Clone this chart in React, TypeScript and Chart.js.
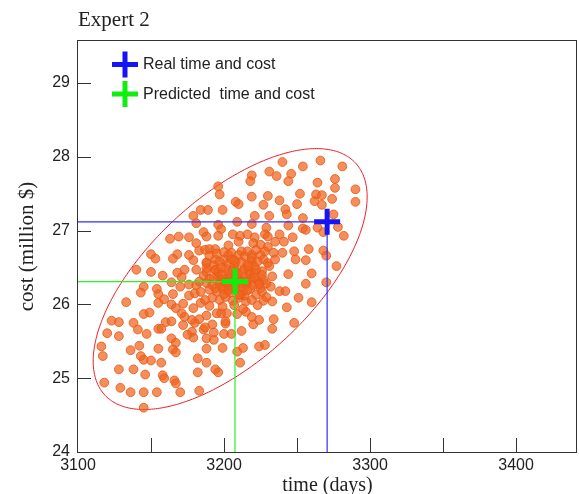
import React, { useEffect, useRef } from 'react';
import { Chart, registerables } from 'chart.js';

Chart.register(...registerables);

// Simulated outcomes (time in days, cost in million $)
const timeDays = [
  3240, 3254, 3266, 3281, 3231, 3236, 3219, 3218, 3246, 3244,
  3264, 3276, 3276, 3290, 3196, 3197, 3219, 3230, 3238, 3252,
  3263, 3267, 3274, 3262, 3267, 3290, 3208, 3210, 3227, 3250,
  3184, 3189, 3199, 3242, 3243, 3179, 3221, 3231, 3254, 3275,
  3181, 3209, 3219, 3196, 3198, 3229, 3244, 3254, 3256, 3264,
  3268, 3278, 3186, 3188, 3163, 3169, 3176, 3196, 3206, 3211,
  3210, 3216, 3221, 3228, 3230, 3238, 3247, 3282, 3235, 3241,
  3181, 3220, 3225, 3230, 3183, 3187, 3190, 3194, 3203, 3203,
  3212, 3216, 3219, 3222, 3225, 3228, 3234, 3258, 3248, 3268,
  3270, 3240, 3150, 3153, 3168, 3165, 3176, 3179, 3188, 3194,
  3200, 3208, 3219, 3227, 3230, 3235, 3249, 3256, 3277, 3140,
  3150, 3158, 3168, 3173, 3171, 3181, 3188, 3194, 3201, 3214,
  3226, 3233, 3244, 3260,
  3145, 3143, 3154, 3155, 3165, 3170, 3133, 3155, 3159, 3164,
  3167, 3145, 3149, 3123, 3128, 3138, 3141, 3147, 3160, 3155,
  3157, 3120, 3128, 3164, 3167, 3116, 3136, 3142, 3155, 3165,
  3167, 3117, 3143, 3145, 3150, 3157, 3128, 3138, 3146, 3158,
  3159, 3118, 3129, 3136, 3145, 3154, 3166, 3167, 3170, 3145,
  3164, 3171, 3172, 3173, 3172,
  3233, 3234, 3233, 3224, 3228, 3213, 3209, 3211, 3199, 3188,
  3188, 3182, 3182, 3194, 3196, 3183, 3179, 3188, 3193, 3178,
  3186, 3193, 3200, 3205, 3212, 3201, 3201, 3192, 3187, 3180,
  3175, 3220, 3224, 3219, 3215, 3209, 3202, 3198, 3195, 3188,
  3183, 3178, 3227, 3223, 3222, 3229, 3238,
  3256, 3270, 3242, 3251, 3260, 3243, 3248,
  3164, 3176, 3181, 3176, 3180, 3184, 3179, 3190,
  3190, 3195, 3200, 3205, 3210, 3214, 3219, 3223, 3188, 3193,
  3197, 3203, 3207, 3212, 3216, 3221, 3186, 3190, 3196, 3200,
  3205, 3210, 3214, 3219, 3223, 3188, 3192, 3197, 3202, 3206,
  3211, 3216, 3220, 3225, 3190, 3195, 3199, 3204, 3208, 3213,
  3218, 3192, 3197, 3201, 3206, 3210, 3215, 3219, 3199, 3207,
  3213, 3204, 3209, 3212, 3197, 3217, 3205, 3193, 3214, 3183,
  3184, 3187, 3227, 3226, 3229, 3203, 3212, 3196, 3208, 3218,
  3205, 3200, 3215, 3221, 3232, 3217, 3202, 3194, 3226, 3211,
  3208, 3231, 3224, 3199,
  3198, 3206, 3215, 3221, 3209, 3201, 3194, 3216, 3224, 3210,
  3203, 3188, 3222, 3207, 3199,
];

const costMillion = [
  27.93, 27.87, 27.95, 27.87, 27.80, 27.74, 27.75, 27.67, 27.77, 27.67,
  27.65, 27.70, 27.58, 27.56, 27.60, 27.49, 27.46, 27.47, 27.41, 27.50,
  27.49, 27.48, 27.43, 27.40, 27.35, 27.39, 27.39, 27.36, 27.35, 27.36,
  27.28, 27.28, 27.28, 27.29, 27.22, 27.20, 27.20, 27.20, 27.17, 27.22,
  27.10, 27.12, 27.09, 27.08, 27.02, 27.04, 27.07, 27.03, 27.01, 27.04,
  26.98, 27.05, 26.98, 26.92, 26.89, 26.92, 26.91, 26.93, 26.95, 26.93,
  26.85, 26.95, 26.91, 26.95, 26.92, 26.95, 26.91, 26.93, 26.85, 26.85,
  26.83, 26.83, 26.81, 26.78, 26.73, 26.74, 26.75, 26.75, 26.80, 26.67,
  26.72, 26.72, 26.67, 26.74, 26.67, 26.72, 26.70, 26.75, 26.72, 26.73,
  26.66, 26.70, 26.68, 26.62, 26.68, 26.62, 26.67, 26.60, 26.57, 26.61,
  26.61, 26.58, 26.59, 26.61, 26.56, 26.61, 26.61, 26.60, 26.52, 26.47,
  26.44, 26.39, 26.43, 26.47, 26.37, 26.47, 26.49, 26.47, 26.49, 26.48,
  26.45, 26.38, 26.41, 26.42,
  26.24, 26.16, 26.21, 26.14, 26.14, 26.24, 26.03, 26.02, 26.07, 26.00,
  25.95, 25.87, 25.89, 25.78, 25.76, 25.75, 25.66, 25.60, 25.76, 25.67,
  25.67, 25.61, 25.57, 25.54, 25.48, 25.43, 25.38, 25.44, 25.40, 25.39,
  25.35, 25.30, 25.30, 25.25, 25.24, 25.21, 25.12, 25.12, 25.05, 25.04,
  25.00, 24.94, 24.87, 24.81, 24.81, 24.81, 24.97, 24.93, 24.81, 24.60,
  25.77, 25.88, 26.01, 25.83, 25.72,
  26.04, 25.80, 25.67, 25.43, 25.45, 25.41, 25.36, 25.21, 25.41, 25.40,
  25.21, 25.27, 25.08, 25.12, 25.08, 24.83, 25.55, 25.54, 25.52, 25.63,
  25.66, 25.62, 25.60, 25.60, 25.64, 25.74, 25.77, 25.73, 25.69, 25.75,
  25.59, 25.73, 25.79, 25.83, 25.90, 25.87, 25.88, 25.88, 25.88, 25.85,
  25.80, 25.79, 26.05, 25.99, 26.13, 26.28, 26.18,
  26.28, 26.30, 26.18, 26.09, 26.03, 25.96, 25.75,
  26.30, 26.27, 26.26, 26.12, 26.15, 26.02, 25.95, 25.98,
  26.66, 26.69, 26.71, 26.70, 26.67, 26.65, 26.63, 26.58, 26.56, 26.53,
  26.58, 26.55, 26.52, 26.57, 26.54, 26.51, 26.39, 26.35, 26.38, 26.34,
  26.39, 26.35, 26.38, 26.34, 26.32, 26.29, 26.26, 26.33, 26.28, 26.32,
  26.29, 26.33, 26.26, 26.22, 26.20, 26.17, 26.21, 26.16, 26.20, 26.17,
  26.21, 26.09, 26.06, 26.10, 26.05, 26.09, 26.04, 26.06, 25.97, 25.99,
  25.94, 26.25, 26.36, 26.24, 26.27, 26.46, 26.61, 26.36, 26.12, 26.31,
  26.17, 26.06, 26.33, 26.17, 26.10, 26.42, 26.44, 26.44, 26.27, 26.41,
  26.22, 26.14, 26.27, 26.43, 26.24, 26.52, 26.35, 26.47, 26.40, 26.13,
  26.46, 26.52, 26.29, 26.24,
  26.50, 26.46, 26.31, 26.37, 26.41, 26.30, 26.22, 26.19, 26.27, 26.13,
  26.19, 26.44, 26.47, 26.60, 26.40,
];

// Real and predicted outcome
const realTime = 3270.6;
const realCost = 27.12;
const predictedTime = 3207.5;
const predictedCost = 26.31;

// Confidence ellipse: centre, half extents along each axis, phase between them
const ellipseCenterTime = 3204.2;
const ellipseCenterCost = 26.344;
const ellipseHalfTime = 93.8;
const ellipseHalfCost = 1.768;
const ellipsePhaseDeg = 51;

// Axis ranges and ticks
const timeMin = 3100;
const timeMax = 3441.7;
const costMin = 24;
const costMax = 29.57;
const timeMinorTicks = [3150, 3200, 3250, 3300, 3350, 3400];
const costTicks = [25, 26, 27, 28, 29];

const chartTitle = 'Expert 2';
const xTitle = 'time (days)';
const yTitle = 'cost (million $)';
const legendLabels = ['Real time and cost', 'Predicted  time and cost'];

const BLUE = '#1414f5';
const GREEN = '#10ee10';
const SANS = '"Liberation Sans", Arial, Helvetica, sans-serif';
const SERIF = '"Liberation Serif", "Times New Roman", serif';
const TEXT = '#222222';
const AXIS = '#333333';

const ellipsePlugin = {
  id: 'costEllipse',
  beforeDatasetsDraw(chart: any) {
    const { ctx, scales } = chart;
    const x = scales.x;
    const y = scales.y;
    const phase = (ellipsePhaseDeg * Math.PI) / 180;
    ctx.save();
    ctx.beginPath();
    for (let i = 0; i <= 360; i++) {
      const t = (i * Math.PI) / 180;
      const px = x.getPixelForValue(ellipseCenterTime + ellipseHalfTime * Math.cos(t));
      const py = y.getPixelForValue(ellipseCenterCost + ellipseHalfCost * Math.cos(t - phase));
      if (i === 0) ctx.moveTo(px, py);
      else ctx.lineTo(px, py);
    }
    ctx.closePath();
    ctx.strokeStyle = '#f01820';
    ctx.lineWidth = 1;
    ctx.stroke();
    ctx.restore();
  },
};

const framePlugin = {
  id: 'plotFrame',
  afterDraw(chart: any) {
    const { ctx, chartArea, scales } = chart;
    const { left, top, right, bottom } = chartArea;
    ctx.save();
    ctx.strokeStyle = AXIS;
    ctx.lineWidth = 1;
    ctx.strokeRect(Math.round(left) - 0.5, Math.round(top) - 0.5, Math.round(right - left), Math.round(bottom - top) + 1);
    ctx.beginPath();
    for (const v of timeMinorTicks) {
      const px = Math.round(scales.x.getPixelForValue(v)) + 0.5;
      ctx.moveTo(px, bottom);
      ctx.lineTo(px, bottom - 14);
    }
    for (const c of costTicks) {
      const py = Math.round(scales.y.getPixelForValue(c)) + 0.5;
      ctx.moveTo(left, py);
      ctx.lineTo(left + 13, py);
    }
    ctx.stroke();

    // title
    ctx.fillStyle = TEXT;
    ctx.font = `21px ${SERIF}`;
    ctx.textAlign = 'left';
    ctx.textBaseline = 'alphabetic';
    ctx.fillText(chartTitle, left, 26);

    // legend
    const colors = [BLUE, GREEN];
    legendLabels.forEach((label, i) => {
      const cx = left + 47;
      const cy = top + 23.5 + i * 29.5;
      ctx.strokeStyle = colors[i];
      ctx.lineWidth = 5;
      ctx.beginPath();
      ctx.moveTo(cx - 13, cy);
      ctx.lineTo(cx + 13, cy);
      ctx.moveTo(cx, cy - 13);
      ctx.lineTo(cx, cy + 13);
      ctx.stroke();
      ctx.fillStyle = TEXT;
      ctx.font = `16px ${SANS}`;
      ctx.textBaseline = 'middle';
      ctx.fillText(label, left + 65, cy + 0.5);
    });
    ctx.restore();
  },
};

export default function App() {
  const canvasRef = useRef<HTMLCanvasElement | null>(null);

  useEffect(() => {
    const canvas = canvasRef.current;
    if (!canvas) return;

    const points = timeDays.map((t, i) => ({ x: t, y: costMillion[i] }));

    const chart = new Chart(canvas, {
      type: 'scatter',
      data: {
        datasets: [
          {
            label: legendLabels[0],
            data: [{ x: realTime, y: realCost }],
            pointStyle: 'cross',
            pointRadius: 13,
            pointBorderWidth: 5,
            borderColor: BLUE,
            backgroundColor: BLUE,
          } as any,
          {
            label: legendLabels[1],
            data: [{ x: predictedTime, y: predictedCost }],
            pointStyle: 'cross',
            pointRadius: 13,
            pointBorderWidth: 5,
            borderColor: GREEN,
            backgroundColor: GREEN,
          },
          {
            label: 'real guide',
            data: [
              { x: timeMin, y: realCost },
              { x: realTime, y: realCost },
              { x: realTime, y: costMin },
            ],
            showLine: true,
            pointRadius: 0,
            borderWidth: 1.2,
            borderColor: '#2f2fff',
          },
          {
            label: 'predicted guide',
            data: [
              { x: timeMin, y: predictedCost },
              { x: predictedTime, y: predictedCost },
              { x: predictedTime, y: costMin },
            ],
            showLine: true,
            pointRadius: 0,
            borderWidth: 1.2,
            borderColor: '#22f522',
          },
          {
            label: 'simulations',
            data: points,
            pointRadius: 4.4,
            pointBorderWidth: 1,
            backgroundColor: 'rgba(240, 100, 30, 0.72)',
            borderColor: 'rgba(232, 92, 24, 0.85)',
          },
        ],
      },
      options: {
        responsive: false,
        animation: false,
        layout: { autoPadding: false, padding: { top: 41, right: 2, bottom: 0, left: 0 } },
        plugins: {
          legend: { display: false },
          tooltip: { enabled: false },
          title: { display: false },
        },
        scales: {
          x: {
            type: 'linear',
            position: 'bottom',
            min: timeMin,
            max: timeMax,
            grid: { display: false, drawTicks: false },
            border: { display: false },
            ticks: {
              stepSize: 100,
              includeBounds: false,
              autoSkip: false,
              maxRotation: 0,
              padding: 4,
              color: TEXT,
              font: { family: SANS, size: 16 },
              callback: (v: any) => String(v),
            },
            title: {
              display: true,
              text: xTitle,
              color: TEXT,
              font: { family: SERIF, size: 20 },
              padding: { top: 0, bottom: -4 },
            },
            afterFit: (s: any) => {
              s.height = 42;
              s.paddingLeft = 0;
              s.paddingRight = 0;
            },
          },
          y: {
            type: 'linear',
            min: costMin,
            max: costMax,
            grid: { display: false, drawTicks: false },
            border: { display: false },
            ticks: {
              stepSize: 1,
              includeBounds: false,
              padding: 8,
              color: TEXT,
              font: { family: SANS, size: 16 },
            },
            title: {
              display: true,
              text: yTitle,
              color: TEXT,
              font: { family: SERIF, size: 21 },
              padding: { top: 15, bottom: 0 },
            },
            afterFit: (s: any) => {
              s.width = 78;
              s.paddingTop = 0;
              s.paddingBottom = 0;
            },
          },
        },
      } as any,
      plugins: [ellipsePlugin, framePlugin],
    });

    return () => chart.destroy();
  }, []);

  return (
    <div style={{ position: 'fixed', left: 0, top: 0, width: 579, height: 494, background: '#fff' }}>
      <canvas ref={canvasRef} width={579} height={494} style={{ display: 'block' }} />
    </div>
  );
}
